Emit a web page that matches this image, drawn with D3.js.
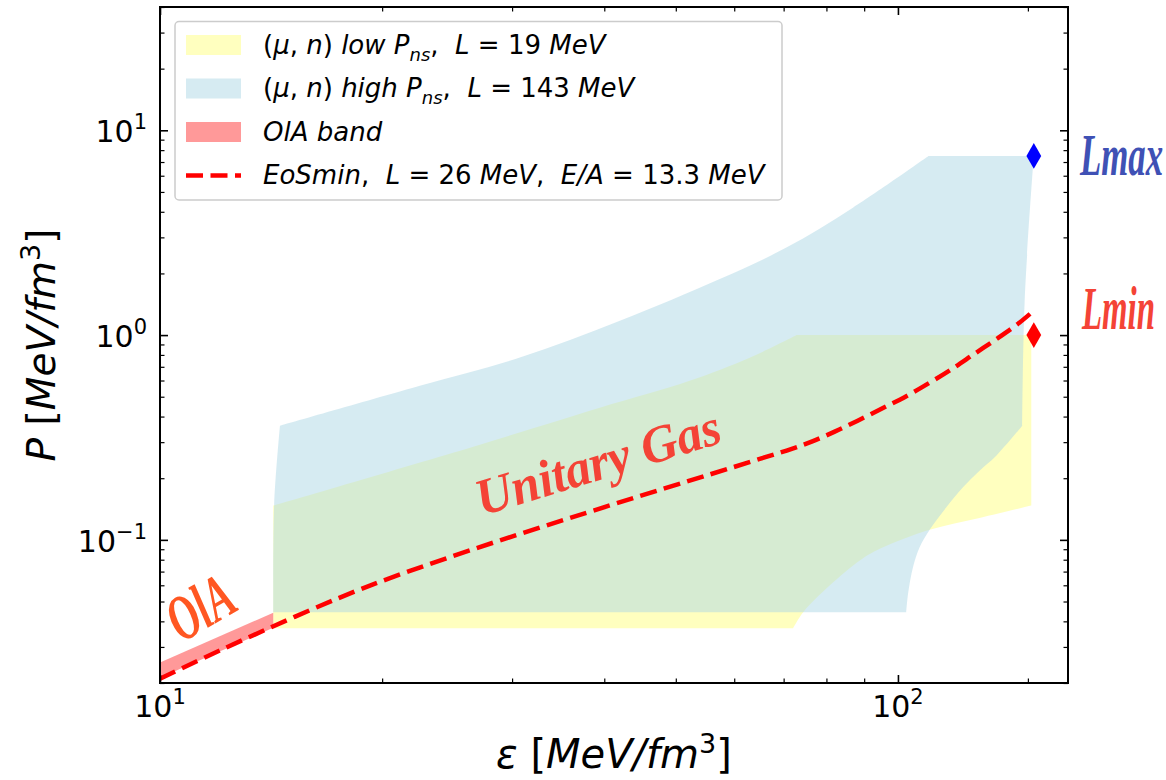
<!DOCTYPE html>
<html>
<head>
<meta charset="utf-8">
<script src="https://cdn.jsdelivr.net/npm/d3@7"></script>
<style>
  body { margin: 0; background: #ffffff; }
  text { white-space: pre; }
</style>
</head>
<body>
<svg id="chart" width="1166" height="780"></svg>
<script>
// ---------------- data ----------------
// axis ticks
const xTickMajor = [10, 100];
const xTickMinor = [20, 30, 40, 50, 60, 70, 80, 90, 150];
const xTickExp   = ["1", "2"];
const yTickMajor = [0.1, 1, 10];
const yTickMinor = [0.02, 0.03, 0.04, 0.05, 0.06, 0.07, 0.08, 0.09,
                    0.2, 0.3, 0.4, 0.5, 0.6, 0.7, 0.8, 0.9,
                    2, 3, 4, 5, 6, 7, 8, 9, 20, 30, 40];
const yTickExp   = ["\u22121", "0", "1"];

// (mu,n) high P_ns band, L = 143 MeV : outline pieces
const highTopEps    = [14.54, 22.5, 30.74, 42.0, 57.35, 70.6, 86.9, 110.0];
const highTopP      = [0.361, 0.566, 0.777, 1.174, 1.876, 2.675, 4.19, 7.49];
const highCapEps    = [110.0, 152.8];
const highCapP      = [7.49, 7.49];
const highRightEps  = [152.8, 148.5, 147.4];
const highRightP    = [7.49, 1.47, 0.361];
const highCornerEps = [147.4, 135.9, 129.0, 122.5, 116.3, 110.4, 107.0, 104.8, 103.2, 102.6];
const highCornerP   = [0.361, 0.2577, 0.2178, 0.1805, 0.1442, 0.1119, 0.092, 0.0735, 0.0545, 0.0443];
const highFloorEps  = [102.6, 14.24];
const highFloorP    = [0.0443, 0.0443];
const highLeftEps   = [14.24, 14.28, 14.54];
const highLeftP     = [0.0443, 0.150, 0.361];

// (mu,n) low P_ns band, L = 19 MeV : outline pieces
const lowTopEps    = [14.24, 27.13, 39.44, 52.2, 62.96, 72.9];
const lowTopP      = [0.147, 0.2917, 0.4418, 0.598, 0.775, 1.0];
const lowCapEps    = [72.9, 151.6];
const lowCapP      = [1.0, 1.0];
const lowRightEps  = [151.6, 151.6];
const lowRightP    = [1.0, 0.147];
const lowCornerEps = [151.6, 129.0, 110.4, 94.5, 88.8, 80.8, 74.4, 72.1];
const lowCornerP   = [0.147, 0.128, 0.1119, 0.0904, 0.0793, 0.0598, 0.0443, 0.037];
const lowFloorEps  = [72.1, 14.24];
const lowFloorP    = [0.037, 0.037];
const lowLeftEps   = [14.24, 14.24];
const lowLeftP     = [0.037, 0.147];

// OlA band
const olaEps  = [10, 14.24];
const olaLow  = [0.0212, 0.0372];
const olaHigh = [0.0252, 0.0441];

// EoSmin curve, L = 26 MeV, E/A = 13.3 MeV
const eosEps = [10, 19.25, 64.97, 71.8, 76.4, 82.1, 88.2, 95.0, 101.8, 110.4, 118.2, 127.0, 136.5, 146.2, 153.1];
const eosP   = [0.021, 0.0598, 0.2484, 0.2782, 0.3016, 0.3376, 0.382, 0.437, 0.4944, 0.5853, 0.681, 0.8107, 0.9647, 1.152, 1.324];

// L_max / L_min markers
const markEps    = [152.8, 152.8];
const markP      = [7.5, 1.0];
const markColors = ["#0000ff", "#ff0000"];

// legend entries
const legendKinds = ["patch", "patch", "patch", "dash"];
const legendFills = ["#ffffbf", "#d6ebf2", "#ff9999", null];
const legendTexts = [
  [["(", "r"], ["\u03bc", "i"], [", ", "r"], ["n", "i"], [") ", "r"], ["low ", "i"], ["P", "i"], ["ns", "sub"], [",  ", "r"], ["L", "i"], [" = 19 ", "r"], ["MeV", "i"]],
  [["(", "r"], ["\u03bc", "i"], [", ", "r"], ["n", "i"], [") ", "r"], ["high ", "i"], ["P", "i"], ["ns", "sub"], [",  ", "r"], ["L", "i"], [" = 143 ", "r"], ["MeV", "i"]],
  [["OlA band", "i"]],
  [["EoSmin", "i"], [",  ", "r"], ["L", "i"], [" = 26 ", "r"], ["MeV", "i"], [",  ", "r"], ["E/A", "i"], [" = 13.3 ", "r"], ["MeV", "i"]]
];

// ---------------- layout ----------------
const W = 1166, H = 780;
const plot = { left: 160, right: 1068, top: 7, bottom: 683 };
const FONT = "'DejaVu Sans', sans-serif";
const SCRIPT = "'Liberation Serif', 'DejaVu Serif', serif";

const svg = d3.select("#chart");
svg.append("rect").attr("width", W).attr("height", H).attr("fill", "#ffffff");

const x = d3.scaleLog().domain([10, 170]).range([plot.left, plot.right]);
const y = d3.scaleLog().domain([0.02, 40]).range([plot.bottom, plot.top]);

svg.append("defs").append("clipPath").attr("id", "plotclip")
  .append("rect")
  .attr("x", plot.left).attr("y", plot.top)
  .attr("width", plot.right - plot.left).attr("height", plot.bottom - plot.top);

const g = svg.append("g").attr("clip-path", "url(#plotclip)");

// build a closed outline from pieces; pieces with >2 points are smoothed
function outline(pieces) {
  let d = "";
  pieces.forEach(([es, ps], i) => {
    const pts = es.map((e, k) => [x(e), y(ps[k])]);
    const gen = d3.line().curve(pts.length > 2 ? d3.curveCatmullRom.alpha(0.5) : d3.curveLinear);
    let s = gen(pts);
    if (i > 0) s = "L" + s.slice(1);
    d += s;
  });
  return d + "Z";
}

// low P_ns band (drawn first)
g.append("path")
  .attr("d", outline([
    [lowTopEps, lowTopP], [lowCapEps, lowCapP], [lowRightEps, lowRightP],
    [lowCornerEps, lowCornerP], [lowFloorEps, lowFloorP], [lowLeftEps, lowLeftP]
  ]))
  .attr("fill", "#ffff00").attr("fill-opacity", 0.25);

// high P_ns band
g.append("path")
  .attr("d", outline([
    [highTopEps, highTopP], [highCapEps, highCapP], [highRightEps, highRightP],
    [highCornerEps, highCornerP], [highFloorEps, highFloorP], [highLeftEps, highLeftP]
  ]))
  .attr("fill", "#add8e6").attr("fill-opacity", 0.5);

// OlA band
g.append("path")
  .datum(olaEps.map((e, i) => ({ e, lo: olaLow[i], hi: olaHigh[i] })))
  .attr("d", d3.area().x(d => x(d.e)).y0(d => y(d.lo)).y1(d => y(d.hi)))
  .attr("fill", "#ff0000").attr("fill-opacity", 0.4);

// EoSmin dashed curve
g.append("path")
  .datum(eosEps.map((e, i) => [e, eosP[i]]))
  .attr("d", d3.line().x(d => x(d[0])).y(d => y(d[1])).curve(d3.curveCatmullRom.alpha(0.5)))
  .attr("fill", "none")
  .attr("stroke", "#ff0000")
  .attr("stroke-width", 4.5)
  .attr("stroke-dasharray", "17,7.5");

// markers
svg.selectAll("path.marker")
  .data(markEps.map((e, i) => ({ e, p: markP[i], c: markColors[i] })))
  .join("path")
  .attr("class", "marker")
  .attr("transform", d => `translate(${x(d.e)},${y(d.p)})`)
  .attr("d", d3.symbol(d3.symbolDiamond, 190))
  .attr("fill", d => d.c);

// ---------------- axes ----------------
function tickAxis(axisFn, scale, values, len, width, tx, ty) {
  const a = svg.append("g")
    .attr("transform", `translate(${tx},${ty})`)
    .call(axisFn(scale).tickValues(values).tickSize(-len).tickFormat(""));
  a.select(".domain").remove();
  a.selectAll(".tick line").attr("stroke", "#000").attr("stroke-width", width);
}
[[d3.axisBottom, 0, plot.bottom], [d3.axisTop, 0, plot.top]].forEach(([f, tx, ty]) => {
  tickAxis(f, x, xTickMajor, 8, 1.6, tx, ty);
  tickAxis(f, x, xTickMinor, 4.5, 1.2, tx, ty);
});
[[d3.axisLeft, plot.left, 0], [d3.axisRight, plot.right, 0]].forEach(([f, tx, ty]) => {
  tickAxis(f, y, yTickMajor, 8, 1.6, tx, ty);
  tickAxis(f, y, yTickMinor, 4.5, 1.2, tx, ty);
});

// frame
svg.append("rect")
  .attr("x", plot.left).attr("y", plot.top)
  .attr("width", plot.right - plot.left).attr("height", plot.bottom - plot.top)
  .attr("fill", "none").attr("stroke", "#000").attr("stroke-width", 2);

// power-of-ten tick labels
function powLabel(sel, exp) {
  sel.append("tspan").text("10");
  sel.append("tspan").attr("dy", -13).attr("font-size", 21).text(exp);
}
xTickMajor.forEach((v, i) => {
  svg.append("text")
    .attr("x", x(v)).attr("y", 717)
    .attr("text-anchor", "middle")
    .attr("font-family", FONT).attr("font-size", 30).attr("fill", "#000")
    .call(powLabel, xTickExp[i]);
});
yTickMajor.forEach((v, i) => {
  svg.append("text")
    .attr("x", plot.left - 13).attr("y", y(v) + 12)
    .attr("text-anchor", "end")
    .attr("font-family", FONT).attr("font-size", 30).attr("fill", "#000")
    .call(powLabel, yTickExp[i]);
});

// axis titles
function unitLabel(sel, sym) {
  sel.append("tspan").attr("font-style", "italic").text(sym);
  sel.append("tspan").text(" [");
  sel.append("tspan").attr("font-style", "italic").text("MeV/fm");
  sel.append("tspan").attr("dy", -15).attr("font-size", 27).text("3");
  sel.append("tspan").attr("dy", 15).text("]");
}
svg.append("text")
  .attr("x", (plot.left + plot.right) / 2).attr("y", 768)
  .attr("text-anchor", "middle")
  .attr("font-family", FONT).attr("font-size", 40).attr("fill", "#000")
  .call(unitLabel, "\u03b5");
svg.append("text")
  .attr("transform", `translate(55,${(plot.top + plot.bottom) / 2}) rotate(-90)`)
  .attr("text-anchor", "middle")
  .attr("font-family", FONT).attr("font-size", 39).attr("fill", "#000")
  .call(unitLabel, "P");

// ---------------- legend ----------------
const lg = svg.append("g");
lg.append("rect")
  .attr("x", 175).attr("y", 21.5).attr("width", 607).attr("height", 178.5)
  .attr("rx", 4).attr("ry", 4)
  .attr("fill", "#ffffff").attr("fill-opacity", 0.8)
  .attr("stroke", "#cccccc").attr("stroke-width", 1.5);

legendTexts.forEach((segs, i) => {
  const cy = 45 + i * 43.5;
  if (legendKinds[i] === "patch") {
    lg.append("rect")
      .attr("x", 186).attr("y", cy - 10).attr("width", 55).attr("height", 20)
      .attr("fill", legendFills[i]);
  } else {
    lg.append("line")
      .attr("x1", 186).attr("x2", 241).attr("y1", cy).attr("y2", cy)
      .attr("stroke", "#ff0000").attr("stroke-width", 4.5)
      .attr("stroke-dasharray", "17,7.5");
  }
  const t = lg.append("text")
    .attr("x", 263).attr("y", cy + 8.5)
    .attr("font-family", FONT).attr("font-size", 26).attr("fill", "#000");
  let shift = 0;
  segs.forEach(([s, kind]) => {
    const ts = t.append("tspan").text(s);
    const target = kind === "sub" ? 7 : 0;
    if (target !== shift) { ts.attr("dy", target - shift); shift = target; }
    if (kind === "i" || kind === "sub") ts.attr("font-style", "italic");
    if (kind === "sub") ts.attr("font-size", 18);
  });
});

// ---------------- annotations ----------------
// hand-lettered style labels: narrow bold italic serif, squeezed horizontally
function note(txt, cx, cy, angle, size, sx, anchor, color) {
  svg.append("text")
    .attr("transform", `translate(${cx},${cy}) rotate(${angle}) scale(${sx},1)`)
    .attr("text-anchor", anchor)
    .attr("font-family", SCRIPT).attr("font-style", "italic").attr("font-weight", "bold")
    .attr("font-size", size)
    .attr("fill", color)
    .text(txt);
}
note("OlA", 211, 626, -30, 64, 0.64, "middle", "#ff5722");
note("Unitary Gas", 603, 479, -17, 52, 0.97, "middle", "#f44336");
note("Lmax", 1080, 175, 0, 60, 0.58, "start", "#3f51b5");
note("Lmin", 1082, 329, 0, 62, 0.53, "start", "#f44336");
</script>
</body>
</html>
